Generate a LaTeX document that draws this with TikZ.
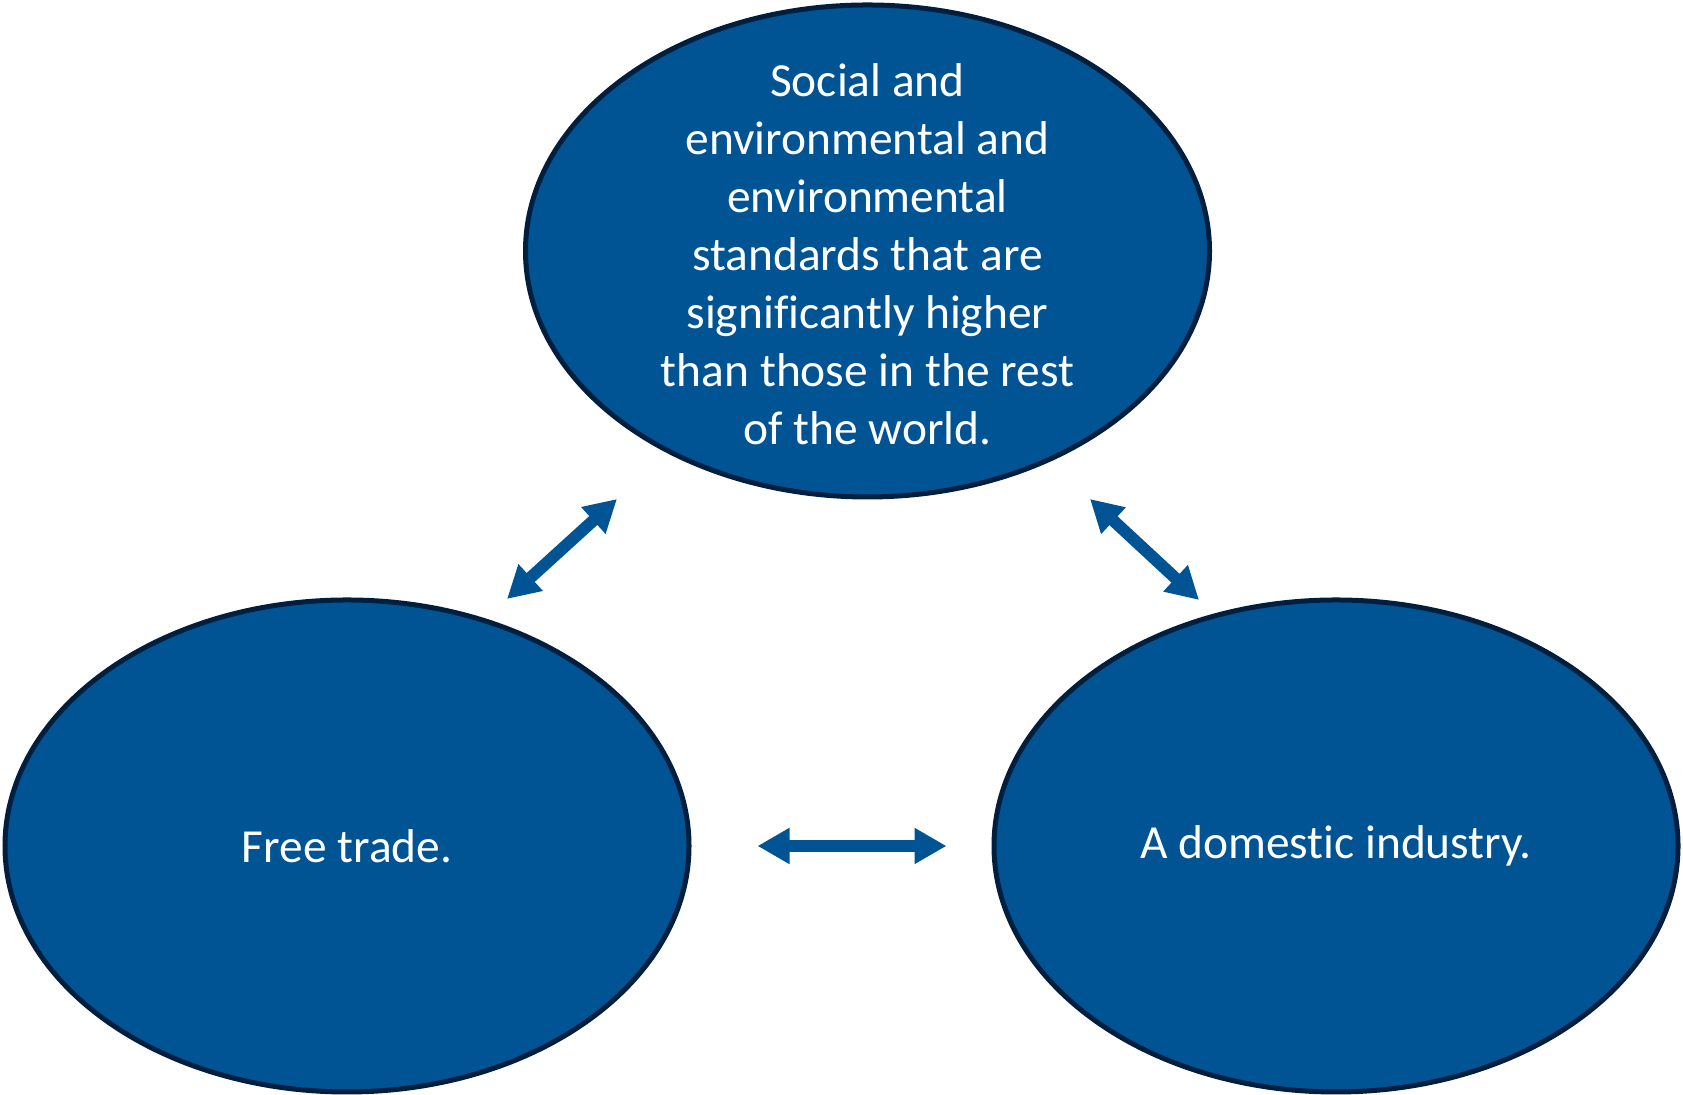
\documentclass[tikz,border=0pt]{standalone}
\usepackage{fontspec}
\setmainfont{Carlito}[RawFeature={-liga;-clig;-dlig}]
\usetikzlibrary{arrows.meta,shapes}

\definecolor{bluefill}{RGB}{0,84,147}
\definecolor{blueline}{RGB}{0,30,62}

\begin{document}
\begin{tikzpicture}[blob/.style={shape=ellipse,draw=blueline,fill=bluefill,line width=0.05cm,minimum width=6.84cm,minimum height=4.92cm,inner sep=0pt},
        blobtext/.style={text=white,align=center,inner sep=0pt,font=\fontsize{13.5}{16.5}\selectfont},
        twoway/.style={{Triangle[width=0.34cm,length=0.32cm]}-{Triangle[width=0.34cm,length=0.32cm]},line width=0.12cm,draw=bluefill}]
                \useasboundingbox (0,0) rectangle (16.83,10.95);
                \node[blob](standards)at(8.675, 8.44){};
                \node[blobtext](standardstext)at(8.675, 8.41){Social and\\environmental and\\environmental\\standards that are\\significantly higher\\than those in the rest\\of the world.};
                \node[blob,blobtext](free)at(3.47, 2.49){Free trade.};
                \node[blob,blobtext](domestic)at(13.36, 2.49){A domestic industry.};
                % arrow ends
                \coordinate(lefta)at(5.07, 4.96);
                \coordinate(leftb)at(6.17, 5.96);
                \coordinate(righta)at(10.90, 5.96);
                \coordinate(rightb)at(11.99, 4.95);
                \draw[twoway](lefta) -- (leftb);
                \draw[twoway](righta) -- (rightb);
                \draw[twoway,shorten <=0.66cm,shorten >=0.45cm](free) -- (domestic);
            \end{tikzpicture}
\end{document}
